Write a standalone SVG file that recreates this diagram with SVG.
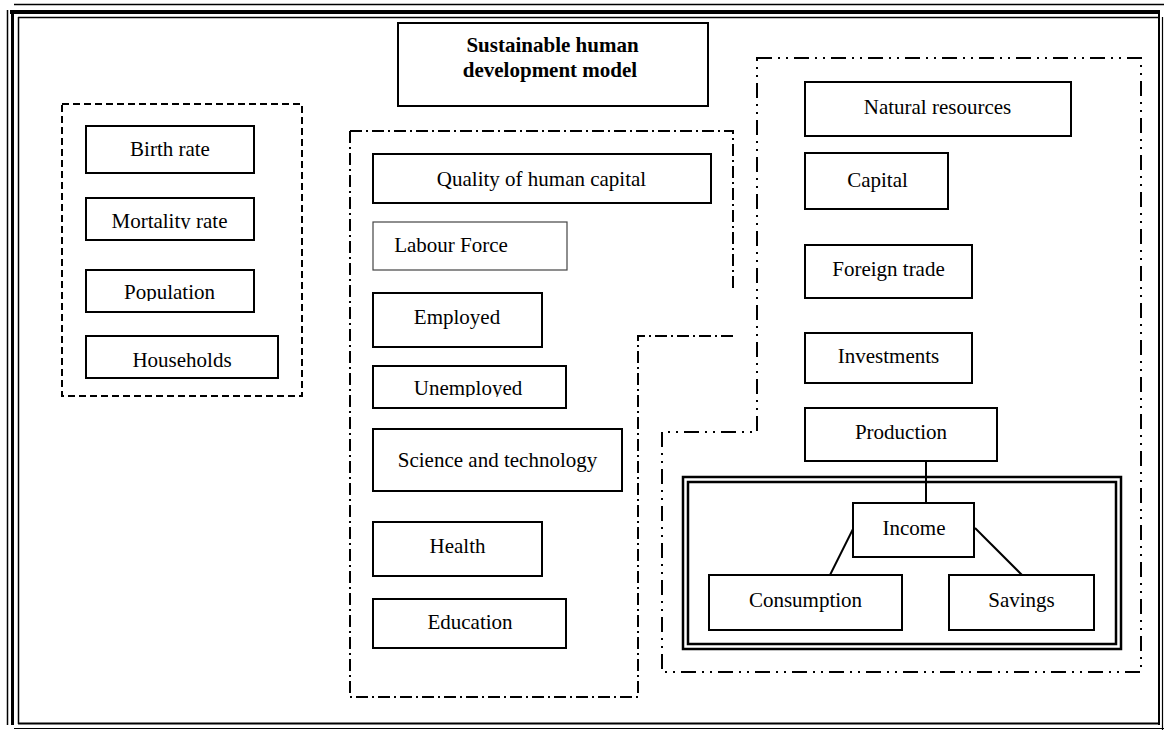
<svg xmlns="http://www.w3.org/2000/svg" width="1164" height="730" viewBox="0 0 1164 730">
<style>
.box{fill:#fff;stroke:#000;stroke-width:2}
.thin{fill:#fff;stroke:#444;stroke-width:1.2}
.t{font-family:"Liberation Serif","Times New Roman",serif;font-size:21px;fill:#000;text-anchor:middle}
.title{font-family:"Liberation Serif","Times New Roman",serif;font-size:21px;font-weight:bold;fill:#000;text-anchor:middle}
.dash{fill:none;stroke:#000;stroke-width:2;stroke-dasharray:7 4}
.dd{fill:none;stroke:#000;stroke-width:2;stroke-dasharray:15 6 2 6 2 6}
.d1{fill:none;stroke:#000;stroke-width:2;stroke-dasharray:12 4 2 4}
.ln{stroke:#000;stroke-width:2;fill:none}
</style>
<defs>
<clipPath id="cM"><rect x="86" y="198" width="168" height="31"/></clipPath>
<clipPath id="cP"><rect x="86" y="270" width="168" height="31"/></clipPath>
<clipPath id="cU"><rect x="373" y="366" width="193" height="31"/></clipPath>
</defs>
<rect width="1164" height="730" fill="#fff"/>
<g id="frame">
<line x1="14" y1="4.5" x2="1164" y2="4.5" stroke="#000" stroke-width="1.5"/>
<line x1="10" y1="12" x2="1160" y2="12" stroke="#000" stroke-width="4"/>
<line x1="18" y1="17.5" x2="1158" y2="17.5" stroke="#000" stroke-width="1.5"/>
<line x1="7.5" y1="10" x2="7.5" y2="725" stroke="#000" stroke-width="1.5"/>
<line x1="12.5" y1="10" x2="12.5" y2="725" stroke="#000" stroke-width="3"/>
<line x1="18.5" y1="17" x2="18.5" y2="724" stroke="#000" stroke-width="1.5"/>
<line x1="18" y1="723.5" x2="1159" y2="723.5" stroke="#000" stroke-width="2"/>
<line x1="14" y1="728.5" x2="1164" y2="728.5" stroke="#000" stroke-width="1.2"/>
<line x1="1159" y1="11" x2="1159" y2="725" stroke="#000" stroke-width="2"/>
<line x1="1162.5" y1="17" x2="1162.5" y2="730" stroke="#000" stroke-width="1.2"/>
</g>
<g id="regions">
<rect class="dash" x="62" y="104" width="240" height="292"/>
<path class="d1" d="M350,131 H733 V292"/>
<path class="d1" d="M733,336 H638 V697 H350 V131"/>
<path class="dd" d="M757,58 H1141 V672 H662 V432 H757 Z"/>
</g>
<g id="title">
<rect class="box" x="398" y="23" width="310" height="83"/>
<text class="title" x="552.5" y="52">Sustainable human</text>
<text class="title" x="550" y="77">development model</text>
</g>
<g id="birth-rate"><rect class="box" x="86" y="126" width="168" height="47"/><text class="t" x="170" y="155.5">Birth rate</text></g>
<g id="mortality-rate"><rect class="box" x="86" y="198" width="168" height="42"/><text class="t" x="169.5" y="227.5" clip-path="url(#cM)">Mortality rate</text></g>
<g id="population"><rect class="box" x="86" y="270" width="168" height="42"/><text class="t" x="169.5" y="299" clip-path="url(#cP)">Population</text></g>
<g id="households"><rect class="box" x="86" y="336" width="192" height="42"/><text class="t" x="182" y="366.5">Households</text></g>
<g id="quality"><rect class="box" x="373" y="154" width="338" height="49"/><text class="t" x="541.5" y="185.5">Quality of human capital</text></g>
<g id="labour-force"><rect class="thin" x="373" y="222" width="194" height="48"/><text class="t" x="451" y="251.5">Labour Force</text></g>
<g id="employed"><rect class="box" x="373" y="293" width="169" height="54"/><text class="t" x="457" y="324">Employed</text></g>
<g id="unemployed"><rect class="box" x="373" y="366" width="193" height="42"/><text class="t" x="468" y="395" clip-path="url(#cU)">Unemployed</text></g>
<g id="science"><rect class="box" x="373" y="429" width="249" height="62"/><text class="t" x="497.5" y="466.5">Science and technology</text></g>
<g id="health"><rect class="box" x="373" y="522" width="169" height="54"/><text class="t" x="457.5" y="552.5">Health</text></g>
<g id="education"><rect class="box" x="373" y="599" width="193" height="49"/><text class="t" x="470" y="629">Education</text></g>
<g id="natural-resources"><rect class="box" x="805" y="82" width="266" height="54"/><text class="t" x="937.5" y="114">Natural resources</text></g>
<g id="capital"><rect class="box" x="805" y="153" width="143" height="56"/><text class="t" x="877.5" y="186.5">Capital</text></g>
<g id="foreign-trade"><rect class="box" x="805" y="245" width="167" height="53"/><text class="t" x="888.5" y="276">Foreign trade</text></g>
<g id="investments"><rect class="box" x="805" y="333" width="167" height="50"/><text class="t" x="888.5" y="363">Investments</text></g>
<g id="production"><rect class="box" x="805" y="408" width="192" height="53"/><text class="t" x="901" y="439">Production</text></g>
<g id="income-group">
<rect fill="none" stroke="#000" stroke-width="2.5" x="683" y="477" width="438" height="172"/>
<rect fill="none" stroke="#000" stroke-width="2.5" x="688" y="482" width="428" height="162"/>
</g>
<g id="connectors">
<line class="ln" x1="926" y1="461" x2="926" y2="503"/>
<line class="ln" x1="853" y1="529" x2="830" y2="575"/>
<line class="ln" x1="975" y1="528" x2="1022" y2="575"/>
</g>
<g id="income"><rect class="box" x="853" y="503" width="121" height="54"/><text class="t" x="914" y="535">Income</text></g>
<g id="consumption"><rect class="box" x="709" y="575" width="193" height="55"/><text class="t" x="805.5" y="606.5">Consumption</text></g>
<g id="savings"><rect class="box" x="949" y="575" width="145" height="55"/><text class="t" x="1021.5" y="606.5">Savings</text></g>
</svg>
